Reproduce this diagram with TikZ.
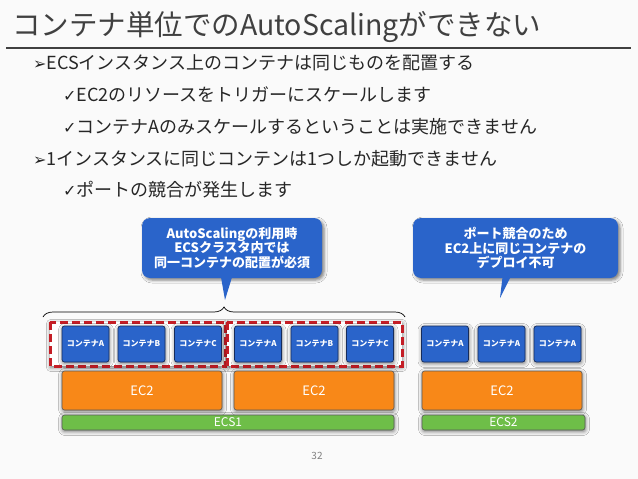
\documentclass[tikz,border=0pt]{standalone}
\usepackage{fontspec}
\setmainfont{Noto Sans CJK JP}
\newfontfamily\symfont{DejaVu Sans}
\usetikzlibrary{calc}
\usetikzlibrary{shadows.blur}
\usetikzlibrary{decorations.pathreplacing}

\definecolor{titlegray}{RGB}{64,64,64}
\definecolor{textgray}{RGB}{38,38,38}
\definecolor{boxblue}{RGB}{42,100,202}
\definecolor{boxnavy}{RGB}{22,44,92}
\definecolor{ecorange}{RGB}{248,136,24}
\definecolor{ecsgreen}{RGB}{110,190,72}
\definecolor{dashred}{RGB}{196,30,38}
\definecolor{pagebg}{RGB}{250,250,250}

\begin{document}
\begin{tikzpicture}[x=1pt, y=-1pt,
  bodytext/.style={anchor=west, inner sep=0, text=textgray, font=\fontsize{18}{21}\selectfont},
  softshadow/.style={blur shadow={shadow xshift=0.5pt, shadow yshift=-1.5pt, shadow blur radius=4pt, shadow opacity=55}},
  container/.style={softshadow, draw=boxnavy, line width=0.7pt, fill=boxblue, rounded corners=2.5pt, minimum width=47pt, minimum height=36pt, inner sep=0, text=white, font=\fontsize{8}{9}\selectfont\bfseries},
  hostbox/.style={softshadow, draw=black!65, line width=0.6pt, fill=ecorange, rounded corners=2.5pt, minimum width=160pt, minimum height=39pt, inner sep=0, text=white, font=\fontsize{13}{15}\selectfont},
  clusterbox/.style={softshadow, draw=black!65, line width=0.6pt, fill=ecsgreen, rounded corners=2.5pt, minimum height=15pt, inner sep=0, text=white, font=\fontsize{12}{13}\selectfont},
  groupline/.style={softshadow, draw=dashred, fill=white, line width=3pt, dash pattern=on 8pt off 4pt},
  notebox/.style={blur shadow={shadow xshift=2pt, shadow yshift=-2pt, shadow blur radius=3pt, shadow opacity=50}, fill=boxblue, rounded corners=8pt, minimum height=60pt, inner sep=0, align=center, text=white, font=\fontsize{13}{14.5}\selectfont\bfseries}
]
\fill[pagebg] (0,0) rectangle (638,479);

% title
\node[anchor=base west, inner sep=0, text=titlegray, font=\fontsize{28.5}{32}\selectfont] (title) at (12,35) {コンテナ単位でのAutoScalingができない};
\draw[titlegray, line width=1.6pt] (6,48) -- (631,48);

% bullets
\node[bodytext] (b1) at (33,63) {{\symfont\fontsize{16}{18}\selectfont ➢}ECSインスタンス上のコンテナは同じものを配置する};
\node[bodytext] (b2) at (63,95) {{\symfont\fontsize{16}{18}\selectfont ✓}EC2のリソースをトリガーにスケールします};
\node[bodytext] (b3) at (63,127) {{\symfont\fontsize{16}{18}\selectfont ✓}コンテナAのみスケールするということは実施できません};
\node[bodytext] (b4) at (33,159) {{\symfont\fontsize{16}{18}\selectfont ➢}1インスタンスに同じコンテンは1つしか起動できません};
\node[bodytext] (b5) at (63,190) {{\symfont\fontsize{16}{18}\selectfont ✓}ポートの競合が発生します};

% callouts
\node[notebox, minimum width=180pt] (note1) at (232,248) {AutoScalingの利用時\\ECSクラスタ内では\\同一コンテナの配置が必須};
\coordinate (tip1) at (225,300);
\fill[boxblue] ($(note1.south)+(-11,-1)$) -- (tip1) -- ($(note1.south)+(0,-1)$) -- cycle;
\node[notebox, minimum width=205pt] (note2) at (515.5,248) {ポート競合のため\\EC2上に同じコンテナの\\デプロイ不可};
\coordinate (tip2) at (500,298);
\fill[boxblue] ($(note2.south)+(-13,-1)$) -- (tip2) -- ($(note2.south)+(-5,-1)$) -- cycle;

% brace over ECS1
\coordinate (braceL) at (43,317);
\coordinate (braceR) at (405,317);
\draw[black, line width=0.7pt, decorate, decoration={brace, amplitude=10pt}] (braceL) -- (braceR);

% ECS1
\draw[groupline] (50,322) rectangle (225,366);
\draw[groupline] (227,322) rectangle (402,366);
\foreach \x/\c [count=\i] in {85.5/A, 141.5/B, 198/C, 258/A, 314.5/B, 370/C}
  \node[container] (c\i) at (\x,344) {コンテナ\c};
\node[hostbox] (host1) at (142,390.5) {EC2};
\node[hostbox] (host2) at (314,390.5) {EC2};
\node[clusterbox, minimum width=332pt] (ecs1) at (228,422.5) {ECS1};

% ECS2
\foreach \x [count=\i] in {445, 501.5, 557.5}
  \node[container] (d\i) at (\x,344) {コンテナA};
\node[hostbox] (host3) at (502,390.5) {EC2};
\node[clusterbox, minimum width=163pt] (ecs2) at (503.5,422.5) {ECS2};

\node[text=gray, font=\fontsize{10}{11}\selectfont] (pagenum) at (317,456) {32};
\end{tikzpicture}
\end{document}
